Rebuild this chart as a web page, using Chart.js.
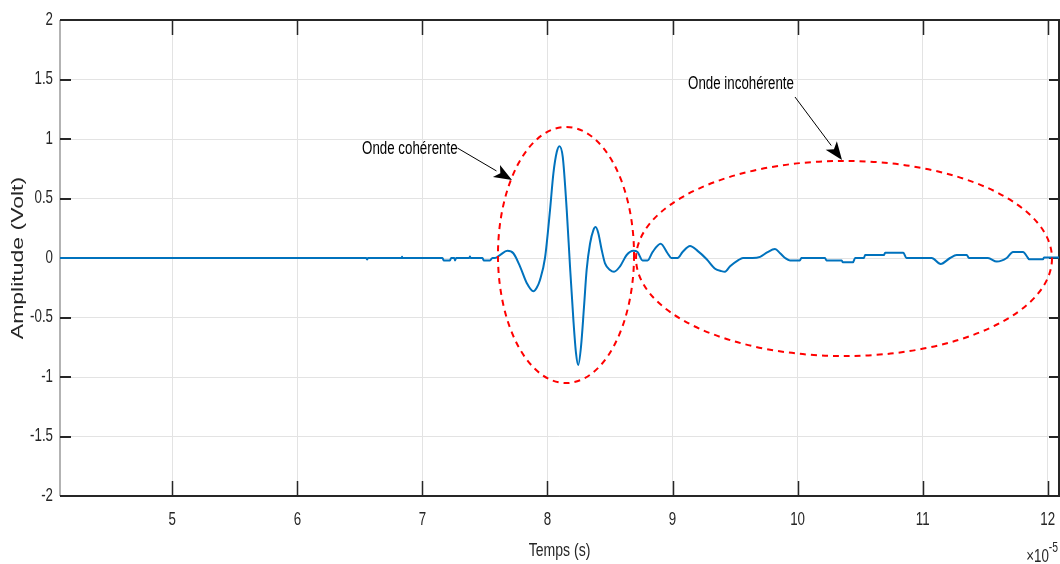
<!DOCTYPE html>
<html>
<head>
<meta charset="utf-8">
<script src="https://cdn.jsdelivr.net/npm/chart.js@4.4.1/dist/chart.umd.min.js"></script>
<style>
body { margin: 0; background: #fff; }
#wrap { width: 1060px; height: 564px; }
</style>
</head>
<body>
<div id="wrap"><canvas id="myChart" width="1060" height="564"></canvas></div>
<script>
// time axis in units of 1e-5 s
var timeVals = [
  4.102, 6.55, 6.557, 6.565, 6.835, 6.837, 6.84, 7.16, 7.17, 7.22, 7.23, 7.255, 7.26, 7.27,
  7.375, 7.38, 7.385, 7.48, 7.49, 7.54, 7.56, 7.58,
  7.62, 7.679, 7.727, 7.78, 7.834, 7.887, 7.914, 7.94, 7.98, 8.02, 8.047, 8.074, 8.095,
  8.122, 8.154, 8.18, 8.207, 8.228, 8.246, 8.268, 8.292, 8.313, 8.34, 8.367, 8.385,
  8.406, 8.433, 8.46, 8.5, 8.532, 8.58, 8.633, 8.686,
  8.72, 8.76, 8.8, 8.84, 8.905, 8.96, 8.99, 9.04, 9.08, 9.14, 9.2, 9.273, 9.34, 9.39,
  9.419, 9.46, 9.523, 9.563, 9.64, 9.7, 9.76, 9.819, 9.86, 9.9, 9.939, 10.019, 10.03,
  10.219, 10.23, 10.353, 10.36, 10.443, 10.46, 10.53, 10.54, 10.69, 10.7, 10.845, 10.87,
  11.072, 11.144, 11.219, 11.272, 11.352, 11.37, 11.522, 11.592, 11.672, 11.722, 11.802,
  11.842, 11.85, 11.962, 11.97, 12.09
];
var ampVals = [
  0, 0, -0.012, 0, 0, 0.01, 0, 0, -0.02, -0.02, 0, 0, -0.02, 0,
  0, 0.012, 0, 0, -0.02, -0.02, 0, 0,
  0.025, 0.06, 0.04, -0.07, -0.21, -0.28, -0.25, -0.185, 0, 0.40, 0.71, 0.89, 0.94,
  0.85, 0.40, -0.07, -0.52, -0.80, -0.90, -0.745, -0.41, -0.10, 0.12, 0.235, 0.26,
  0.21, 0.07, -0.045, -0.10, -0.115, -0.07, 0.025, 0.06,
  0.05, -0.02, -0.02, 0.05, 0.12, 0.04, 0, 0, 0.05, 0.10, 0.06, -0.01, -0.09, -0.11,
  -0.115, -0.07, -0.02, 0, 0, 0.01, 0.05, 0.075, 0.04, 0, -0.02, -0.02, 0,
  0, -0.02, -0.02, -0.035, -0.035, 0, 0, 0.025, 0.025, 0.045, 0.045, 0,
  0, -0.05, 0, 0.025, 0.025, 0, 0, -0.03, 0, 0.05, 0.05,
  0, -0.01, -0.01, 0.005, 0.005
];
var xTicks = [5, 6, 7, 8, 9, 10, 11, 12];
var yTicks = [-2, -1.5, -1, -0.5, 0, 0.5, 1, 1.5, 2];
var xTitle = 'Temps (s)';
var yTitle = 'Amplitude (Volt)';

// dashed ellipses around the two wave groups: [cx, cy, rx, ry]
var ellipses = [
  [8.148, 0.025, 0.544, 1.076],
  [10.371, -0.004, 1.663, 0.82]
];
// labels with arrows: text, text left x, text y, arrow start, arrow tip
var notes = [
  { text: 'Onde cohérente', x: 6.517, y: 0.916, from: [7.28, 0.924], to: [7.716, 0.655] },
  { text: 'Onde incohérente', x: 9.124, y: 1.462, from: [9.979, 1.353], to: [10.355, 0.824] }
];

var sans = "'Liberation Sans', Arial, sans-serif";
var squeeze = 0.74;   // condensed look of all the lettering
var inkColor = '#262626';

var points = timeVals.map(function(t, i) { return { x: t, y: ampVals[i] }; });

function squeezedText(ctx, text, x, y, size, align, baseline) {
  ctx.save();
  ctx.translate(x, y);
  ctx.scale(squeeze, 1);
  ctx.font = size + 'px ' + sans;
  ctx.textAlign = align;
  ctx.textBaseline = baseline;
  ctx.fillText(text, 0, 0);
  ctx.restore();
}

var overlay = {
  id: 'overlay',
  beforeDatasetsDraw: function(chart) {
    var ctx = chart.ctx, a = chart.chartArea, xs = chart.scales.x, ys = chart.scales.y;
    ctx.save();
    // box: grey left edge, dark top/bottom/right
    ctx.lineWidth = 2;
    ctx.strokeStyle = '#b3b3b3';
    ctx.beginPath();
    ctx.moveTo(a.left, a.top);
    ctx.lineTo(a.left, a.bottom);
    ctx.stroke();
    ctx.strokeStyle = inkColor;
    ctx.beginPath();
    ctx.moveTo(a.left, a.top);
    ctx.lineTo(a.right, a.top);
    ctx.lineTo(a.right, a.bottom);
    ctx.lineTo(a.left, a.bottom);
    ctx.stroke();

    // inward tick marks
    ctx.lineWidth = 1.5;
    xTicks.forEach(function(v) {
      var px = Math.round(xs.getPixelForValue(v)) + 0.5;
      ctx.beginPath();
      ctx.moveTo(px, a.bottom);
      ctx.lineTo(px, a.bottom - 15);
      ctx.moveTo(px, a.top);
      ctx.lineTo(px, a.top + 15);
      ctx.stroke();
    });
    ctx.lineWidth = 2;
    yTicks.forEach(function(v) {
      var py = Math.round(ys.getPixelForValue(v));
      ctx.beginPath();
      ctx.moveTo(a.left, py);
      ctx.lineTo(a.left + 11, py);
      ctx.moveTo(a.right, py);
      ctx.lineTo(a.right - 10, py);
      ctx.stroke();
    });

    // tick labels
    ctx.fillStyle = inkColor;
    xTicks.forEach(function(v) {
      squeezedText(ctx, String(v), xs.getPixelForValue(v), 520, 18, 'center', 'middle');
    });
    yTicks.forEach(function(v) {
      squeezedText(ctx, String(v), a.left - 7, ys.getPixelForValue(v), 18, 'right', 'middle');
    });

    // axis titles and exponent
    squeezedText(ctx, xTitle, (a.left + a.right) / 2, 556, 19, 'center', 'alphabetic');
    squeezedText(ctx, '-5', 1058, 552, 14, 'right', 'alphabetic');
    ctx.font = '14px ' + sans;
    var w = ctx.measureText('-5').width * squeeze;
    squeezedText(ctx, '\u00d710', 1058 - w, 562, 18, 'right', 'alphabetic');

    ctx.save();
    ctx.translate(18, (a.top + a.bottom) / 2);
    ctx.scale(squeeze, 1);
    ctx.rotate(-Math.PI / 2);
    ctx.font = '23px ' + sans;
    ctx.textAlign = 'center';
    ctx.textBaseline = 'middle';
    ctx.fillText(yTitle, 0, 0);
    ctx.restore();
    ctx.restore();
  },
  afterDatasetsDraw: function(chart) {
    var ctx = chart.ctx, xs = chart.scales.x, ys = chart.scales.y;
    ctx.save();
    ctx.strokeStyle = '#ff0000';
    ctx.lineWidth = 2;
    ctx.setLineDash([6, 5]);
    ellipses.forEach(function(e) {
      var cx = xs.getPixelForValue(e[0]), cy = ys.getPixelForValue(e[1]);
      var rx = xs.getPixelForValue(e[0] + e[2]) - cx;
      var ry = cy - ys.getPixelForValue(e[1] + e[3]);
      ctx.beginPath();
      ctx.ellipse(cx, cy, rx, ry, 0, 0, Math.PI * 2);
      ctx.stroke();
    });
    ctx.setLineDash([]);

    notes.forEach(function(n) {
      ctx.fillStyle = '#000';
      squeezedText(ctx, n.text, xs.getPixelForValue(n.x), ys.getPixelForValue(n.y), 18, 'left', 'middle');
      var x1 = xs.getPixelForValue(n.from[0]), y1 = ys.getPixelForValue(n.from[1]);
      var x2 = xs.getPixelForValue(n.to[0]), y2 = ys.getPixelForValue(n.to[1]);
      var ang = Math.atan2(y2 - y1, x2 - x1);
      var len = 18, half = 7;
      var c = Math.cos(ang), s = Math.sin(ang);
      ctx.strokeStyle = '#000';
      ctx.lineWidth = 1;
      ctx.beginPath();
      ctx.moveTo(x1, y1);
      ctx.lineTo(x2 - len * c, y2 - len * s);
      ctx.stroke();
      ctx.beginPath();
      ctx.moveTo(x2, y2);
      ctx.lineTo(x2 - len * c + half * s, y2 - len * s - half * c);
      ctx.lineTo(x2 - len * 0.75 * c, y2 - len * 0.75 * s);
      ctx.lineTo(x2 - len * c - half * s, y2 - len * s + half * c);
      ctx.closePath();
      ctx.fill();
    });
    ctx.restore();
  }
};

var ctx = document.getElementById('myChart').getContext('2d');
var myChart = new Chart(ctx, {
  type: 'line',
  data: {
    datasets: [{
      data: points,
      borderColor: '#0072bd',
      borderWidth: 2,
      pointRadius: 0,
      cubicInterpolationMode: 'monotone',
      fill: false
    }]
  },
  options: {
    responsive: false,
    animation: false,
    layout: { padding: { top: 20, right: 1, left: 0, bottom: 0 } },
    plugins: { legend: { display: false }, tooltip: { enabled: false } },
    scales: {
      x: {
        type: 'linear',
        min: 4.102,
        max: 12.09,
        afterBuildTicks: function(scale) {
          scale.ticks = xTicks.map(function(v) { return { value: v }; });
        },
        afterFit: function(scale) { scale.height = 68; },
        grid: { color: '#e3e3e3', lineWidth: 1, drawTicks: false },
        border: { display: false },
        ticks: { display: false }
      },
      y: {
        min: -2,
        max: 2,
        afterBuildTicks: function(scale) {
          scale.ticks = yTicks.map(function(v) { return { value: v }; });
        },
        afterFit: function(scale) { scale.width = 60; },
        grid: { color: '#e3e3e3', lineWidth: 1, drawTicks: false },
        border: { display: false },
        ticks: { display: false }
      }
    }
  },
  plugins: [overlay]
});
</script>
</body>
</html>
